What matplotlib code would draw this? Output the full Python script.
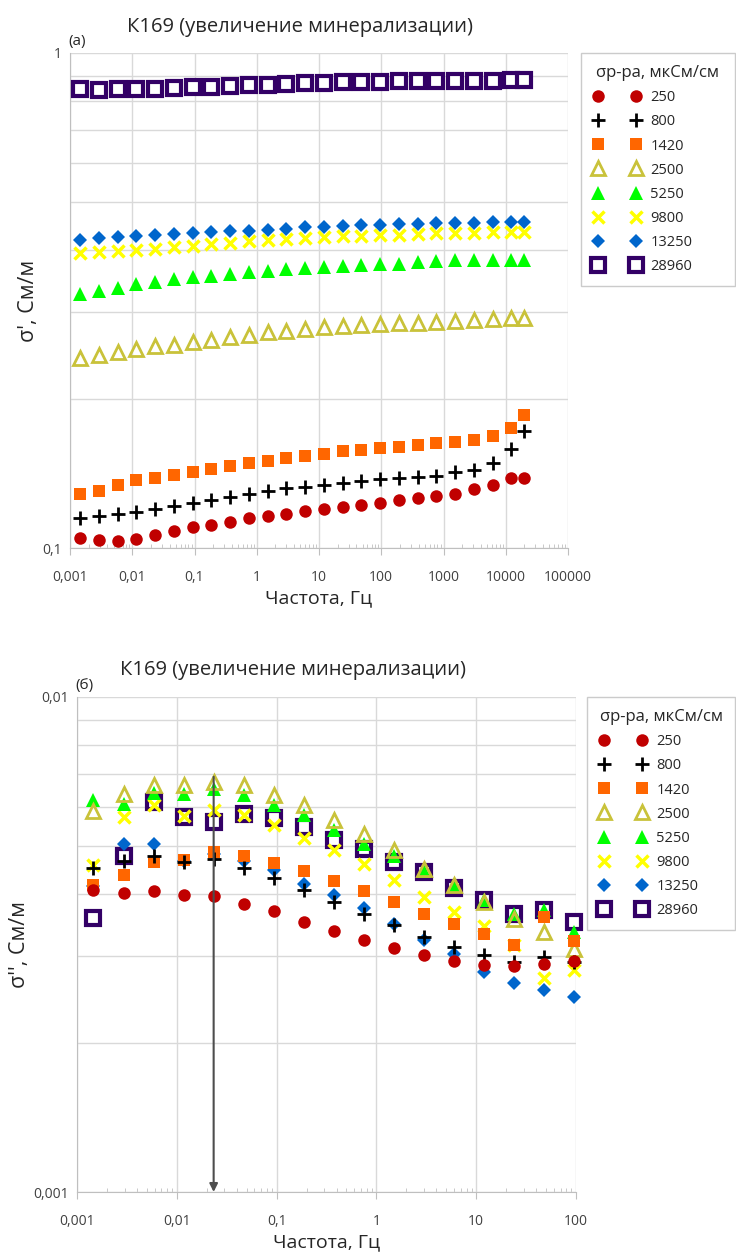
import numpy as np
import matplotlib
matplotlib.use("Agg")
import matplotlib.pyplot as plt
from matplotlib.ticker import NullFormatter, LogLocator

plt.rcParams['font.family'] = ['Open Sans', 'DejaVu Sans']

# frequencies, Hz
freq_top = [0.00146, 0.00293, 0.00586, 0.0117, 0.0234, 0.0469, 0.0938, 0.1875,
            0.375, 0.75, 1.5, 3, 6, 12, 24, 48, 96, 192, 384, 768, 1536, 3072,
            6144, 12288, 20000]
freq_bot = freq_top[:17]

labels = ['250', '800', '1420', '2500', '5250', '9800', '13250', '28960']

# sigma' (S/m)
re_250 = [0.1049, 0.1036, 0.1031, 0.1044, 0.1062, 0.1082, 0.1103, 0.1115, 0.1131, 0.1148,
          0.1161, 0.1173, 0.1188, 0.1201, 0.1212, 0.1221, 0.1235, 0.1248, 0.1264, 0.1272,
          0.1286, 0.1314, 0.1343, 0.1384, 0.1388]
re_800 = [0.1152, 0.1163, 0.1170, 0.1183, 0.1199, 0.1218, 0.1233, 0.1251, 0.1270, 0.1284,
          0.1304, 0.1320, 0.1329, 0.1341, 0.1354, 0.1367, 0.1379, 0.1386, 0.1394, 0.1401,
          0.1421, 0.1438, 0.1482, 0.1584, 0.1725]
re_1420 = [0.1288, 0.1304, 0.1341, 0.1371, 0.1388, 0.1405, 0.1425, 0.1442, 0.1466, 0.1486,
           0.1500, 0.1519, 0.1533, 0.1552, 0.1567, 0.1576, 0.1589, 0.1601, 0.1613, 0.1626,
           0.1641, 0.1654, 0.1680, 0.1749, 0.1853]
re_2500 = [0.2416, 0.2458, 0.2484, 0.2520, 0.2556, 0.2575, 0.2604, 0.2632, 0.2665, 0.2698,
           0.2728, 0.2749, 0.2775, 0.2793, 0.2810, 0.2823, 0.2836, 0.2845, 0.2854, 0.2863,
           0.2881, 0.2890, 0.2903, 0.2917, 0.2917]
re_5250 = [0.3252, 0.3304, 0.3355, 0.3407, 0.3450, 0.3493, 0.3525, 0.3547, 0.3581, 0.3603,
           0.3626, 0.3659, 0.3682, 0.3694, 0.3705, 0.3728, 0.3740, 0.3751, 0.3775, 0.3792,
           0.3811, 0.3811, 0.3823, 0.3823, 0.3823]
re_9800 = [0.3942, 0.3961, 0.3980, 0.4005, 0.4023, 0.4055, 0.4080, 0.4111, 0.4131, 0.4163,
           0.4195, 0.4215, 0.4228, 0.4241, 0.4261, 0.4268, 0.4281, 0.4294, 0.4307, 0.4321,
           0.4327, 0.4334, 0.4341, 0.4355, 0.4355]
re_13250 = [0.4195, 0.4234, 0.4247, 0.4274, 0.4287, 0.4307, 0.4327, 0.4347, 0.4361, 0.4375,
            0.4396, 0.4416, 0.4444, 0.4450, 0.4464, 0.4485, 0.4492, 0.4506, 0.4513, 0.4527,
            0.4541, 0.4541, 0.4556, 0.4563, 0.4563]
re_28960 = [0.844, 0.840, 0.844, 0.847, 0.847, 0.850, 0.854, 0.855, 0.857, 0.860,
            0.863, 0.866, 0.868, 0.871, 0.872, 0.874, 0.875, 0.876, 0.876, 0.878,
            0.879, 0.879, 0.879, 0.880, 0.880]

# sigma'' (S/m)
im_250 = [0.004068, 0.004023, 0.004049, 0.003987, 0.003956, 0.003823, 0.003688, 0.003509, 0.003360,
          0.003222, 0.003109, 0.003014, 0.002926, 0.002877, 0.002858, 0.002890, 0.002926]
im_800 = [0.004520, 0.004664, 0.004766, 0.004642, 0.004714, 0.004520, 0.004315, 0.004080, 0.003852,
          0.003648, 0.003455, 0.003282, 0.003124, 0.003005, 0.002912, 0.002982, 0.002920]
im_1420 = [0.004163, 0.004361, 0.004642, 0.004692, 0.004863, 0.004766, 0.004620, 0.004444, 0.004247,
           0.004049, 0.003852, 0.003648, 0.003482, 0.003323, 0.003162, 0.003593, 0.003207]
im_2500 = [0.005886, 0.006362, 0.006636, 0.006636, 0.006739, 0.006636, 0.006333, 0.006045, 0.005654,
           0.005280, 0.004916, 0.004499, 0.004163, 0.003852, 0.003565, 0.003350, 0.003099]
im_5250 = [0.006187, 0.006092, 0.006402, 0.006362, 0.006533, 0.006333, 0.006045, 0.005768, 0.005397,
           0.005040, 0.004766, 0.004460, 0.004163, 0.003894, 0.003648, 0.003705, 0.003350]
im_9800 = [0.004570, 0.005725, 0.006045, 0.005741, 0.005904, 0.005768, 0.005507, 0.005199, 0.004916,
           0.004592, 0.004261, 0.003942, 0.003675, 0.003439, 0.003162, 0.002703, 0.002810]
im_13250 = [0.004143, 0.005057, 0.005057, 0.004664, 0.004825, 0.004664, 0.004478, 0.004182, 0.003975,
            0.003752, 0.003482, 0.003222, 0.003028, 0.002780, 0.002645, 0.002563, 0.002481]
im_28960 = [0.003581, 0.004766, 0.006139, 0.005725, 0.005593, 0.005813, 0.005707, 0.005464, 0.005135,
            0.004940, 0.004642, 0.004430, 0.004117, 0.003894, 0.003648, 0.003705, 0.003509]

peak_freq = 0.0234

re_data = [re_250, re_800, re_1420, re_2500, re_5250, re_9800, re_13250, re_28960]
im_data = [im_250, im_800, im_1420, im_2500, im_5250, im_9800, im_13250, im_28960]

styles = [
    dict(marker='o', ms=9, mfc='#C00000', mec='#C00000', mew=0),
    dict(marker='+', ms=10, mfc='black', mec='black', mew=2),
    dict(marker='s', ms=8.5, mfc='#FF6600', mec='#FF6600', mew=0),
    dict(marker='^', ms=10, mfc='none', mec='#C9C23A', mew=2),
    dict(marker='^', ms=10.5, mfc='#00FF00', mec='#00FF00', mew=0),
    dict(marker='x', ms=8.5, mfc='#FFFF00', mec='#FFFF00', mew=2.5),
    dict(marker='D', ms=7.5, mfc='#0066CC', mec='#0066CC', mew=0),
    dict(marker='s', ms=10.5, mfc='white', mec='#330066', mew=3),
]

grid_c = '#d9d9d9'
txt_c = '#404040'
dark = '#262626'

fig = plt.figure(figsize=(7.36, 12.52), dpi=100)
ax1 = fig.add_axes([70 / 736, 1 - 548 / 1252, 498 / 736, 495 / 1252])
ax2 = fig.add_axes([77 / 736, 1 - 1192 / 1252, 499 / 736, 495 / 1252])


def style_axis(ax, xticks, xlabels, yticks, ylabels):
    ax.set_xscale('log')
    ax.set_yscale('log')
    ax.set_xlim(xticks[0], xticks[-1])
    ax.set_ylim(yticks[0], yticks[-1])
    ax.set_xticks(xticks)
    ax.set_xticklabels(xlabels)
    ax.set_yticks(yticks)
    ax.set_yticklabels(ylabels)
    ax.xaxis.set_minor_locator(LogLocator(base=10, subs=np.arange(2, 10)))
    ax.xaxis.set_minor_formatter(NullFormatter())
    ax.yaxis.set_minor_locator(LogLocator(base=10, subs=np.arange(2, 10)))
    ax.yaxis.set_minor_formatter(NullFormatter())
    ax.grid(True, which='major', color=grid_c, lw=1)
    ax.grid(True, which='minor', axis='y', color=grid_c, lw=1)
    ax.set_axisbelow(True)
    for s in ['top', 'right']:
        ax.spines[s].set_visible(False)
    for s in ['left', 'bottom']:
        ax.spines[s].set_color('#bfbfbf')
    ax.tick_params(axis='x', which='major', direction='out', length=5, color='#bfbfbf',
                   labelsize=10, labelcolor=txt_c, pad=11)
    ax.tick_params(axis='x', which='minor', direction='in', length=3, color='#bfbfbf')
    ax.tick_params(axis='y', which='both', length=0, labelsize=10, labelcolor=txt_c, pad=6)


style_axis(ax1, [0.001, 0.01, 0.1, 1, 10, 100, 1000, 10000, 100000],
           ['0,001', '0,01', '0,1', '1', '10', '100', '1000', '10000', '100000'],
           [0.1, 1], ['0,1', '1'])
style_axis(ax2, [0.001, 0.01, 0.1, 1, 10, 100],
           ['0,001', '0,01', '0,1', '1', '10', '100'],
           [0.001, 0.01], ['0,001', '0,01'])

handles = []
for i in range(len(labels) - 1, -1, -1):
    h, = ax1.plot(freq_top, re_data[i], ls='none', label=labels[i], clip_on=False,
                  zorder=3 + (7 - i), **styles[i])
    ax2.plot(freq_bot, im_data[i], ls='none', label=labels[i], clip_on=False,
             zorder=3 + (7 - i), **styles[i])
    handles.insert(0, h)

ax2.annotate('', xy=(peak_freq, 0.001), xytext=(peak_freq, 0.0069),
             arrowprops=dict(arrowstyle='-|>', color='#4d4d4d', lw=1.5,
                             mutation_scale=12, shrinkA=0, shrinkB=0),
             zorder=20)

ax1.set_xlabel('Частота, Гц', fontsize=14, color=dark, labelpad=3)
ax2.set_xlabel('Частота, Гц', fontsize=14, color=dark, labelpad=3)
ax1.set_ylabel("σ', См/м", fontsize=15.5, color=dark, labelpad=2)
ax2.set_ylabel("σ'', См/м", fontsize=15.5, color=dark, labelpad=2)

fig.text(300 / 736, 1 - 27 / 1252, 'К169 (увеличение минерализации)', fontsize=14.5,
         color=dark, ha='center', va='center')
fig.text(293 / 736, 1 - 670 / 1252, 'К169 (увеличение минерализации)', fontsize=14.5,
         color=dark, ha='center', va='center')
fig.text(68 / 736, 1 - 41 / 1252, '(а)', fontsize=11, color=dark, ha='left', va='center')
fig.text(75 / 736, 1 - 685 / 1252, '(б)', fontsize=11, color=dark, ha='left', va='center')

for x0, y0, w in [(581, 53, 154), (587, 697, 148)]:
    leg = fig.legend(handles, labels, loc='upper left',
                     bbox_to_anchor=(x0 / 736, 1 - y0 / 1252, w / 736, 0), mode='expand',
                     numpoints=2, handlelength=3.2, handletextpad=0.7,
                     labelspacing=0.62, fontsize=10.5, title='σр-ра, мкСм/см',
                     title_fontsize=12, frameon=True, fancybox=False,
                     edgecolor='#bfbfbf', borderpad=0.85, borderaxespad=0)
    leg.get_frame().set_linewidth(1)
    for t in leg.get_texts():
        t.set_color(dark)
    leg.get_title().set_color(dark)

fig.savefig('out.png', dpi=100)
